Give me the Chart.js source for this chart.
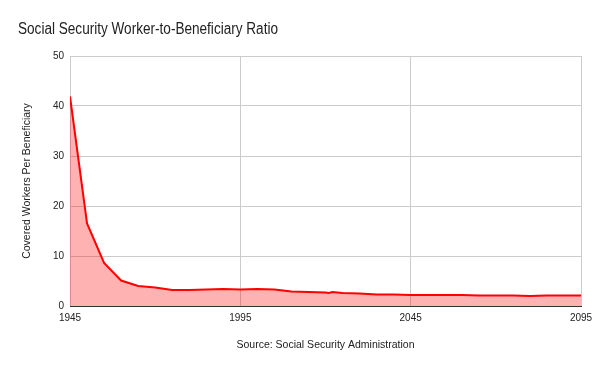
<!DOCTYPE html>
<html>
<head>
<meta charset="utf-8">
<script src="https://cdn.jsdelivr.net/npm/chart.js@4.4.1/dist/chart.umd.min.js"></script>
<style>
  html, body { margin: 0; padding: 0; background: #fff; }
  #wrap { width: 600px; height: 371px; }
</style>
</head>
<body>
<div id="wrap"><canvas id="ratioChart"></canvas></div>
<script>
// Covered workers per beneficiary
const years = [1945, 1950, 1955, 1960, 1965, 1970, 1975, 1980, 1985, 1990, 1995, 2000, 2005, 2010,
  2015, 2020, 2021, 2022, 2025, 2030, 2035, 2040, 2045, 2050, 2055, 2060, 2065, 2070, 2075, 2080, 2085, 2090, 2095];
const ratios = [41.9, 16.5, 8.6, 5.1, 4.0, 3.7, 3.2, 3.2, 3.3, 3.4, 3.3, 3.4, 3.3, 2.9,
  2.8, 2.7, 2.6, 2.8, 2.6, 2.5, 2.3, 2.3, 2.2, 2.2, 2.2, 2.2, 2.1, 2.1, 2.1, 2.0, 2.1, 2.1, 2.1];
const xTicks = [1945, 1995, 2045, 2095];

const FONT = "'Liberation Sans', Arial, sans-serif";

const points = years.map((y, i) => ({ x: y, y: ratios[i] }));

// chart title, drawn top-left like the original (a bit condensed)
const titlePlugin = {
  id: 'leftTitle',
  afterDraw(chart) {
    const c = chart.ctx;
    const text = 'Social Security Worker-to-Beneficiary Ratio';
    c.save();
    c.font = '16px ' + FONT;
    c.fillStyle = '#222';
    c.textBaseline = 'alphabetic';
    const w = c.measureText(text).width;
    const sx = Math.min(1, 260 / w);
    c.translate(18, 34);
    c.scale(sx, 1);
    c.fillText(text, 0, 0);
    c.restore();
  }
};

const ctx = document.getElementById('ratioChart').getContext('2d');

new Chart(ctx, {
  type: 'line',
  data: {
    datasets: [{
      data: points,
      borderColor: '#ff0000',
      borderWidth: 2,
      backgroundColor: 'rgba(255, 0, 0, 0.3)',
      fill: 'origin',
      pointRadius: 0,
      tension: 0
    }]
  },
  options: {
    responsive: true,
    maintainAspectRatio: false,
    animation: false,
    layout: { padding: { top: 56, right: 19, left: 0, bottom: 0 } },
    plugins: {
      legend: { display: false },
      tooltip: { enabled: false }
    },
    scales: {
      x: {
        type: 'linear',
        min: 1945,
        max: 2095,
        afterBuildTicks: (scale) => { scale.ticks = xTicks.map(v => ({ value: v })); },
        afterFit: (scale) => { scale.height = 65; },
        grid: { color: '#cccccc', drawTicks: false },
        border: { color: '#333333', width: 1 },
        ticks: {
          padding: 6,
          color: '#222',
          font: { family: FONT, size: 10 },
          maxRotation: 0,
          callback: (v) => String(v)
        },
        title: {
          display: true,
          text: 'Source: Social Security Administration',
          color: '#222',
          font: { family: FONT, size: 10.5 },
          padding: { top: 0, bottom: 20 }
        }
      },
      y: {
        min: 0,
        max: 50,
        afterFit: (scale) => { scale.width = 70; },
        grid: {
          color: (c) => c.tick && c.tick.value === 0 ? '#333333' : '#cccccc',
          drawTicks: false
        },
        border: { display: false },
        ticks: {
          stepSize: 10,
          padding: 6,
          color: '#222',
          font: { family: FONT, size: 10 }
        },
        title: {
          display: true,
          text: 'Covered Workers Per Beneficiary',
          color: '#222',
          font: { family: FONT, size: 10.5 },
          padding: { top: 21, bottom: 0 }
        }
      }
    }
  },
  plugins: [titlePlugin]
});
</script>
</body>
</html>
